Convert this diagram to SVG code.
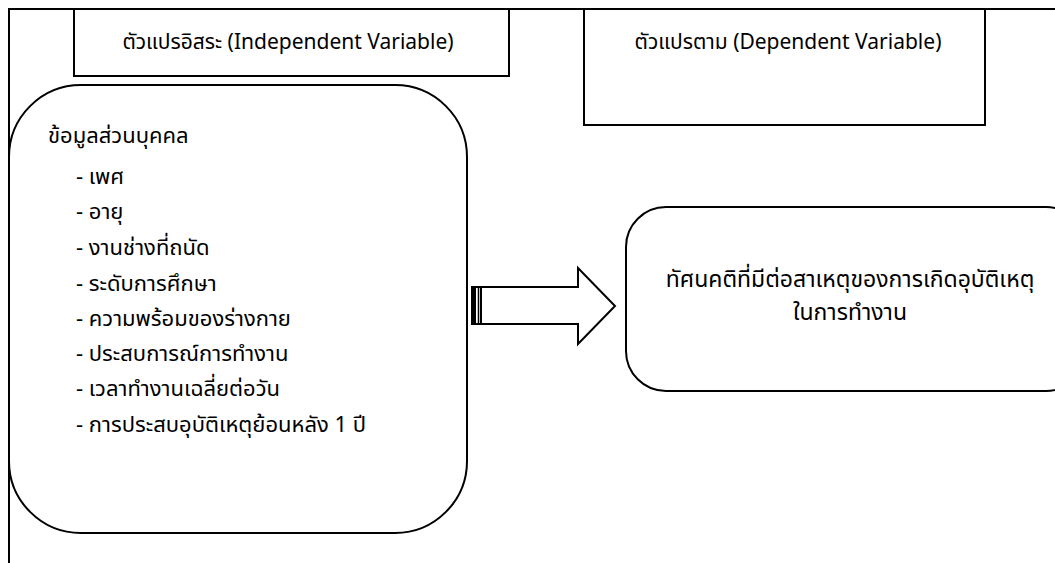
<svg xmlns="http://www.w3.org/2000/svg" width="1055" height="563" viewBox="0 0 1055 563">
<style>
.ln{fill:none;stroke:#000;stroke-width:2}
.bx{fill:#fff;stroke:#000;stroke-width:2}
.t{font-family:"Noto Sans Thai","Noto Sans","DejaVu Sans",sans-serif;font-size:22px;fill:#000}
.h{font-size:21px}
.r{font-size:23px}
</style>
<rect width="1055" height="563" fill="#fff"/>
<g id="frame">
<path class="ln" d="M9,563 V9 H1055"/>
</g>
<g id="independent-title">
<rect class="bx" x="74" y="9" width="435" height="67"/>
<text class="t h" x="288" y="49" text-anchor="middle">ตัวแปรอิสระ (Independent Variable)</text>
</g>
<g id="dependent-title">
<rect class="bx" x="584" y="9" width="401" height="116"/>
<text class="t h" x="788" y="49" text-anchor="middle">ตัวแปรตาม (Dependent Variable)</text>
</g>
<g id="personal-info">
<rect class="bx" x="9" y="85" width="458" height="448" rx="72" ry="72"/>
<text class="t" x="48" y="143">ข้อมูลส่วนบุคคล</text>
<text class="t" x="76" y="184">- เพศ</text>
<text class="t" x="76" y="219">- อายุ</text>
<text class="t" x="76" y="255">- งานช่างที่ถนัด</text>
<text class="t" x="76" y="291">- ระดับการศึกษา</text>
<text class="t" x="76" y="326">- ความพร้อมของร่างกาย</text>
<text class="t" x="76" y="361">- ประสบการณ์การทำงาน</text>
<text class="t" x="76" y="396">- เวลาทำงานเฉลี่ยต่อวัน</text>
<text class="t" x="76" y="432">- การประสบอุบัติเหตุย้อนหลัง 1 ปี</text>
</g>
<g id="connectors">
<path class="bx" d="M472,287 H578 V268 L615,306 L578,344 V324 H472 Z"/>
<rect x="472" y="287" width="4" height="37" fill="#000"/>
<line x1="478.5" y1="287" x2="478.5" y2="324" stroke="#000" stroke-width="1.5"/>
<line x1="481" y1="287" x2="481" y2="324" stroke="#000" stroke-width="2"/>
</g>
<g id="attitude">
<rect class="bx" x="626" y="207" width="460" height="184" rx="40" ry="40"/>
<text class="t r" x="850" y="287" text-anchor="middle">ทัศนคติที่มีต่อสาเหตุของการเกิดอุบัติเหตุ</text>
<text class="t r" x="850" y="320" text-anchor="middle">ในการทำงาน</text>
</g>
</svg>
